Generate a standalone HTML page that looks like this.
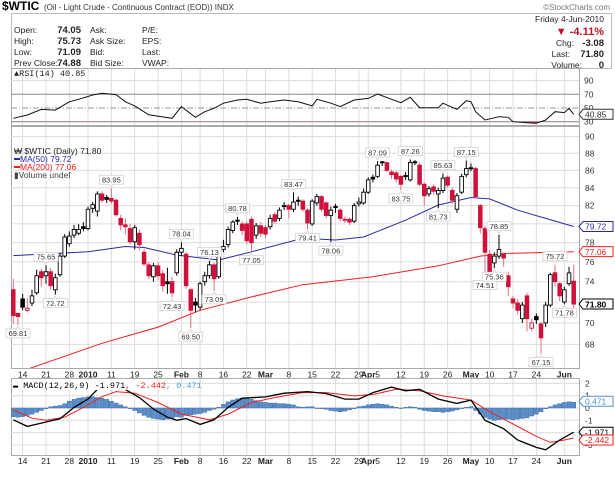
<!DOCTYPE html>
<html><head><meta charset="utf-8">
<style>
html,body{margin:0;padding:0;background:#fff;}
svg{display:block;font-family:"Liberation Sans",sans-serif;}
</style></head>
<body>
<svg id="chart" width="615" height="478" viewBox="0 0 615 478" xmlns="http://www.w3.org/2000/svg">
  <rect x="0" y="0" width="615" height="478" fill="#fff"/>
  <g>
    <text x="2" y="10" font-size="12" font-weight="bold" fill="#000">$WTIC</text>
    <text x="44" y="10" font-size="8" fill="#333">(Oil - Light Crude - Continuous Contract (EOD)) INDX</text>
    <text x="610" y="10" font-size="8" fill="#777" text-anchor="end">©StockCharts.com</text>
  </g>
  <rect x="11.5" y="13.5" width="600" height="55" fill="#fff" stroke="#bbb"/>
  <g font-size="8.5" fill="#222">
    <text x="14" y="33">Open:</text>
    <text x="81" y="33" text-anchor="end" font-weight="bold" font-size="9.5">74.05</text>
    <text x="14" y="44">High:</text>
    <text x="81" y="44" text-anchor="end" font-weight="bold" font-size="9.5">75.73</text>
    <text x="14" y="55">Low:</text>
    <text x="81" y="55" text-anchor="end" font-weight="bold" font-size="9.5">71.09</text>
    <text x="14" y="66">Prev Close:</text>
    <text x="81" y="66" text-anchor="end" font-weight="bold" font-size="9.5">74.88</text>
    <text x="90" y="33">Ask:</text>
    <text x="90" y="44">Ask Size:</text>
    <text x="90" y="55">Bid:</text>
    <text x="90" y="66">Bid Size:</text>
    <text x="142" y="33">P/E:</text>
    <text x="142" y="44">EPS:</text>
    <text x="142" y="55">Last:</text>
    <text x="142" y="66">VWAP:</text>
    <text x="604" y="22" text-anchor="end">Friday  4-Jun-2010</text>
    <text x="604" y="35" text-anchor="end" font-weight="bold" font-size="11" fill="#c0102a">▼ -4.11%</text>
    <text x="574" y="46" text-anchor="end">Chg:</text>
    <text x="604" y="46" text-anchor="end" font-weight="bold" font-size="9.5">-3.08</text>
    <text x="570" y="57" text-anchor="end">Last:</text>
    <text x="604" y="57" text-anchor="end" font-weight="bold" font-size="9.5">71.80</text>
    <text x="582" y="68" text-anchor="end">Volume:</text>
    <text x="604" y="68" text-anchor="end" font-weight="bold" font-size="9.5">0</text>
  </g>
  <g id="rsi"></g>
  <g id="main"></g>
  <g id="dates"></g>
  <g id="macd"></g>
  <defs>
    <clipPath id="mainClip"><rect x="11" y="127" width="568" height="241"/></clipPath>
    <clipPath id="rsiLow"><rect x="11" y="121.7" width="568" height="4"/></clipPath>
  </defs>
</svg>
<script>
// ---------- DATA ----------
const opens = [
73.2,70.9,72.3,71.2,71.9,72.9,75.0,74.6,75.0,73.2,
74.7,76.6,77.9,78.8,79.0,79.7,79.5,81.7,81.4,83.3,
82.9,82.8,82.6,80.6,79.9,79.5,78.1,79.0,77.0,75.7,
74.5,75.6,74.8,74.0,74.0,74.9,77.0,76.8,73.2,72.0,
71.5,74.0,74.6,75.7,74.5,77.3,77.8,79.3,80.4,80.0,
80.0,80.5,78.8,79.8,79.6,79.7,81.0,80.6,82.0,82.0,
81.6,82.6,82.5,81.5,80.0,82.3,83.0,82.3,80.9,81.9,
81.5,80.4,80.5,80.3,82.2,82.3,83.5,85.2,85.3,87.0,
86.9,85.8,85.7,85.3,85.4,84.9,87.0,86.6,84.4,83.3,
84.1,83.3,83.7,85.2,83.7,81.6,83.5,85.5,86.3,86.2,
82.0,79.5,76.8,75.9,76.6,76.8,74.6,72.3,71.9,70.4,
72.6,69.5,70.6,69.9,70.0,71.7,74.9,73.8,72.0,73.8,74.05];
const closes = [
70.7,70.6,71.5,71.4,72.6,74.6,74.4,75.0,73.6,74.4,
76.6,78.6,78.7,79.4,79.4,79.5,81.6,82.1,83.3,82.6,
82.7,82.5,81.0,79.9,79.7,78.1,79.6,77.8,75.8,74.6,
75.6,74.6,73.6,73.8,72.9,77.0,77.4,73.6,71.2,71.7,
73.8,74.6,75.7,74.3,77.1,77.6,79.4,80.2,80.3,79.3,
78.2,78.0,79.8,79.0,78.9,80.6,80.3,81.5,81.9,81.6,
82.4,82.5,81.6,80.1,82.5,83.0,81.6,80.9,81.5,81.8,
80.6,80.5,80.2,82.0,82.4,83.5,84.9,85.0,86.6,86.9,
86.0,85.5,85.0,84.4,85.3,86.9,86.95,84.4,83.1,83.9,
83.6,83.7,85.1,84.3,82.6,83.1,85.3,86.2,86.25,83.0,
79.6,77.0,75.0,76.6,77.3,76.4,73.5,71.9,71.2,71.7,
70.4,70.0,70.3,68.6,71.7,74.7,74.0,72.6,73.2,74.88,71.80];
const highs = [
74.3,71.0,72.8,72.4,73.2,75.2,75.3,75.65,75.4,74.8,
76.9,78.9,79.2,79.9,80.0,80.2,81.9,82.4,83.6,83.6,
83.2,83.95,82.8,81.0,80.6,80.0,79.9,79.4,77.3,76.0,
75.9,76.0,75.2,75.4,74.5,77.3,78.04,77.0,73.4,72.4,
74.0,75.0,76.13,75.9,77.5,78.3,79.7,80.4,80.78,80.3,
80.3,80.8,80.1,80.2,79.9,81.0,81.3,81.8,82.4,82.2,
83.47,83.0,82.7,81.7,82.7,83.3,83.2,82.5,81.9,82.2,
81.7,80.8,80.7,82.3,82.9,83.9,85.2,85.5,87.09,87.1,
87.0,86.1,85.9,85.5,85.8,87.26,87.2,86.9,84.6,84.2,
84.4,84.0,85.63,85.4,84.0,83.4,85.6,87.15,86.8,86.4,
82.2,79.8,77.2,77.0,78.85,77.0,75.0,72.6,72.3,72.0,
72.9,70.4,70.9,70.1,72.0,74.9,75.72,74.0,73.5,75.5,75.73];
const lows = [
69.9,69.81,71.2,71.0,71.6,72.7,73.5,73.8,73.2,72.72,
74.5,76.4,77.6,78.5,78.8,79.2,79.3,81.2,80.8,82.3,
82.3,82.2,80.8,79.3,78.9,77.8,77.3,77.2,75.6,74.3,
74.0,74.2,73.0,72.8,72.43,74.6,76.6,73.3,69.5,71.0,
71.2,73.6,74.3,73.09,74.3,77.0,77.5,79.0,79.9,78.8,
77.8,77.05,78.4,78.6,78.5,79.4,80.0,80.3,81.5,80.6,
81.3,82.0,81.3,79.41,79.8,82.0,81.3,80.6,78.06,81.2,
80.3,80.1,79.9,80.1,81.9,82.1,83.3,84.6,85.1,86.5,
85.8,85.0,84.6,83.75,84.9,84.7,86.6,84.2,82.0,83.0,
83.2,81.73,83.4,84.0,82.2,81.2,83.3,85.2,85.9,82.8,
79.0,74.51,74.8,75.36,76.3,75.5,72.6,71.4,70.8,70.0,
69.2,69.2,69.9,67.15,69.6,71.5,73.5,72.1,71.78,73.6,71.09];

const ma50Days = [0,16,24,28,35,44,51,62,69,75,84,91,98,102,108,114,120];
const ma50Vals = [76.65,77.05,77.6,77.5,76.7,76.2,77.05,78.46,78.28,78.6,80.4,82.07,82.9,82.75,81.5,80.6,79.72];
const ma200Days = [0,4,19,31,40,51,62,77,91,100,105,120];
const ma200Vals = [65.3,65.9,68.1,69.6,71.2,72.5,73.7,74.5,75.6,76.6,76.87,77.06];

const annotDays = [1,7,9,21,36,34,38,42,43,48,51,60,63,68,78,83,85,91,92,97,101,103,104,113,116,118];
const annotTexts = ["69.81","75.65","72.72","83.95","78.04","72.43","69.50","76.13","73.09","80.78","77.05","83.47","79.41","78.06","87.09","83.75","87.26","81.73","85.63","87.15","74.51","75.36","78.85","67.15","75.72","71.78"];
const annotSides = ["L","H","L","H","H","L","L","H","L","H","L","H","L","L","H","L","H","L","H","H","L","L","H","L","H","L"];

const priceTicks = [90,88,86,84,82,78,76,74,70,68];
const priceGrid = [90,88,86,84,82,80,78,76,74,72,70,68];

const rsiDays = [0,3,6,9,12,14,17,19,22,24,26,29,32,34,36,39,41,43,45,48,50,53,55,58,61,64,65,68,70,73,76,78,81,83,85,87,91,92,95,97,98,99,101,104,106,107,110,112,114,116,118,119,120];
const rsiVals = [35,39.8,48,47,59,62.7,69,71.5,69.5,59,53,40,37,35,52,36.4,44.6,49.5,57,61.7,62.7,57,59,61.7,59,53,62.7,57,52,61.7,64,70.4,62.7,57.7,65.6,50.4,50.4,57,48,60.7,59,44.6,32.5,37.3,36.4,30,28.6,27.6,32.5,44.6,43.3,49.5,40.85];
const rsiTicks = [90,70,50,30];

const macdDays = [0,3,6,10,13,16,18,22,24,27,30,33,35,37,40,43,46,49,54,58,63,67,71,74,77,81,84,87,91,95,98,101,105,108,112,114,117,120];
const macdVals = [-0.96,-1.5,-1.23,-0.88,0.05,0.72,1.52,1.92,1.5,0.85,-0.08,-0.75,-1.0,-0.85,-1.33,-0.96,0.05,0.8,0.9,1.2,1.33,1.17,0.72,0.72,1.25,1.7,1.4,1.52,0.72,0.37,0.64,-1.0,-1.68,-2.6,-3.2,-3.4,-2.6,-1.971];
const signalDays = [0,4,7,11,15,19,22,26,31,36,42,46,51,56,62,67,73,77,82,87,92,98,102,107,112,115,118,120];
const signalVals = [-0.16,-0.83,-1.0,-0.75,0.05,0.92,1.33,1.2,0.45,-0.5,-0.96,-0.5,0.45,0.85,1.25,1.25,0.98,1.1,1.52,1.4,0.98,0.64,-0.3,-1.3,-2.3,-2.8,-2.6,-2.442];
const histVals = [
-0.7,-0.75,-0.7,-0.6,-0.5,-0.35,-0.2,-0.05,0.1,0.15,
0.2,0.35,0.55,0.7,0.8,0.85,0.9,0.9,0.85,0.8,
0.7,0.55,0.4,0.25,0.1,-0.05,-0.2,-0.4,-0.6,-0.75,
-0.85,-0.9,-0.95,-0.9,-0.85,-0.7,-0.75,-0.6,-0.55,-0.5,
-0.45,-0.35,-0.2,-0.1,0.05,0.3,0.5,0.65,0.75,0.8,
0.8,0.7,0.6,0.5,0.45,0.4,0.4,0.35,0.35,0.3,
0.25,0.1,0.05,0.1,0.1,0.0,-0.05,-0.1,-0.2,-0.25,
-0.3,-0.25,-0.15,-0.05,0.1,0.15,0.25,0.3,0.35,0.3,
0.25,0.15,0.05,0.0,0.05,0.1,0.05,-0.1,-0.2,-0.25,
-0.3,-0.3,-0.35,-0.3,-0.25,-0.15,-0.05,0.05,0.1,-0.2,
-0.5,-0.75,-0.9,-1.0,-0.95,-0.9,-0.9,-0.95,-0.9,-0.85,
-0.8,-0.65,-0.5,-0.3,-0.05,0.1,0.25,0.35,0.45,0.5,0.471];
const macdTicks = [2,1,0,-1,-3];

const dateTickDays = [2,7,12,16,21,26,31,36,40,45,50,54,59,64,69,74,76,78,83,88,93,98,102,107,112,118];
const dateTickLabels = ["14","21","28","2010","11","19","25","Feb","8","16","22","Mar","8","15","22","29","Apr","5","12","19","26","May","10","17","24","Jun"];
const dateTickBold = [0,0,0,1,0,0,0,1,0,0,0,1,0,0,0,0,1,0,0,0,0,1,0,0,0,1];

// ---------- AXES ----------
const NS = "http://www.w3.org/2000/svg";
const L = 11, R = 579;
function xDay(k){ return 13.3 + k*4.67; }
function yPrice(p){ return 153.3 + 741*Math.log(88/p); }
function yRsi(v){ return 94.3 + (70-v)*0.685; }
function yMacd(m){ return 408 - 12.3*m; }
function mk(tag, attrs, parent){
  const e = document.createElementNS(NS, tag);
  for (const a in attrs) e.setAttribute(a, attrs[a]);
  parent.appendChild(e);
  return e;
}
function pathFrom(days, vals, yf){
  let d = "";
  for (let i=0;i<days.length;i++) d += (i?"L":"M") + xDay(days[i]).toFixed(1) + "," + yf(vals[i]).toFixed(1);
  return d;
}
function vgrid(parent, y0, y1){
  for (let i=0;i<dateTickDays.length;i++){
    if (dateTickLabels[i]==="5") continue;
    const g = mk("line",{x1:xDay(dateTickDays[i]),x2:xDay(dateTickDays[i]),y1:y0,y2:y1,stroke:"#dcdcdc","stroke-width":1},parent);
    
    
  }
}
function valueBox(parent, y, text, color, bold, name){
  const w = 30;
  const b = mk("path",{d:`M${R},${y} L${R+4},${y-5} L${R+4+w},${y-5} L${R+4+w},${y+5} L${R+4},${y+5} Z`,fill:"#fff",stroke:color,"stroke-width":1},parent);
  
  
  const t = mk("text",{x:R+6,y:y+3.2,"font-size":8.5,fill:bold?"#000":color,"font-weight":bold?"bold":"normal"},parent);
  
  
  t.textContent = text;
}

// ---------- RSI PANEL ----------
const rsiG = document.getElementById("rsi");
const rsiFrame = mk("rect",{x:L+0.5,y:68.5,width:R-L,height:57,fill:"#fff",stroke:"#aaa"},rsiG);


vgrid(rsiG, 69, 125);
const g90 = mk("line",{x1:L,x2:R,y1:yRsi(90),y2:yRsi(90),stroke:"#dcdcdc"},rsiG);


const l70 = mk("line",{x1:L,x2:R,y1:yRsi(70),y2:yRsi(70),stroke:"#888"},rsiG);


const l30 = mk("line",{x1:L,x2:R,y1:yRsi(30),y2:yRsi(30),stroke:"#888"},rsiG);


const l50 = mk("line",{x1:L,x2:R,y1:yRsi(50),y2:yRsi(50),stroke:"#999","stroke-dasharray":"6,2,1,2"},rsiG);


const rsiFill = mk("path",{d:pathFrom(rsiDays,rsiVals,yRsi)+` L${xDay(120)},${yRsi(30)} L${xDay(0)},${yRsi(30)} Z`,fill:"#d02040","clip-path":"url(#rsiLow)"},rsiG);


const rsiLine = mk("path",{d:pathFrom(rsiDays,rsiVals,yRsi),fill:"none",stroke:"#111","stroke-width":1},rsiG);


for (const v of rsiTicks){
  const t = mk("text",{x:R+5,y:yRsi(v)+3,"font-size":8.5,fill:"#333"},rsiG);
  
  
  t.textContent = v;
}
valueBox(rsiG, yRsi(rsiVals[rsiVals.length-1]), "40.85", "#333", false, "rsi-current-value");
const rsiLeg = mk("text",{x:14,y:76,"font-size":8.5,fill:"#222","font-family":"Liberation Mono, monospace"},rsiG);


rsiLeg.textContent = "▲RSI(14) 40.85";

// ---------- MAIN PANEL ----------
const mainG = document.getElementById("main");
const mFrame = mk("rect",{x:L+0.5,y:126.5,width:R-L,height:242,fill:"#fff",stroke:"#aaa"},mainG);


vgrid(mainG, 127, 368);
for (const p of priceGrid){
  const g = mk("line",{x1:L,x2:R,y1:yPrice(p),y2:yPrice(p),stroke:"#dcdcdc"},mainG);
  
  
}
for (const p of priceTicks){
  const t = mk("text",{x:R+6,y:yPrice(p)+3,"font-size":8.5,fill:"#333"},mainG);
  
  
  t.textContent = p;
}
const plot = mk("g",{"clip-path":"url(#mainClip)"},mainG);


const ma200 = mk("path",{d:pathFrom(ma200Days,ma200Vals,yPrice),fill:"none",stroke:"#f02020","stroke-width":1},plot);


const ma50 = mk("path",{d:pathFrom(ma50Days,ma50Vals,yPrice),fill:"none",stroke:"#2a2aa0","stroke-width":1},plot);


for (let k=0;k<closes.length;k++){
  const x = xDay(k);
  const up = closes[k] >= opens[k];
  const prev = k>0 ? closes[k-1] : opens[k];
  const col = closes[k] < prev ? "#d0103a" : "#000";
  const wick = mk("line",{x1:x,x2:x,y1:yPrice(highs[k]),y2:yPrice(lows[k]),stroke:col==="#000"?"#000":"#e07080","stroke-width":1},plot);
  
  
  const yt = yPrice(Math.max(opens[k],closes[k])), yb = yPrice(Math.min(opens[k],closes[k]));
  const body = mk("rect",{x:x-1.8,y:yt,width:3.6,height:Math.max(1,yb-yt),fill:up?"#fff":col,stroke:col,"stroke-width":0.9},plot);
  
  
}
for (let i=0;i<annotDays.length;i++){
  const k = annotDays[i];
  const x = xDay(k);
  const w = annotTexts[i].length*4.2+3;
  let y, tri;
  if (annotSides[i]==="H"){ const yh = yPrice(highs[k]); y = yh-13; tri = `M${x-2},${y+9} L${x},${y+11.5} L${x+2},${y+9}`; }
  else { const yl = yPrice(lows[k]); y = yl+4; tri = `M${x-2},${y} L${x},${y-2.5} L${x+2},${y}`; }
  const box = mk("rect",{x:x-w/2,y:y,width:w,height:9,fill:"#fff",stroke:"#ccc","stroke-width":0.7},mainG);
  
  
  const tr = mk("path",{d:tri,fill:"#fff",stroke:"#ccc","stroke-width":0.7},mainG);
  
  
  const t = mk("text",{x:x,y:y+7.3,"font-size":7.5,fill:"#333","text-anchor":"middle"},mainG);
  
  
  t.textContent = annotTexts[i];
}
valueBox(mainG, yPrice(ma50Vals[ma50Vals.length-1]), "79.72", "#2a2aa0", false, "ma50-current-value");
valueBox(mainG, yPrice(ma200Vals[ma200Vals.length-1]), "77.06", "#f02020", false, "ma200-current-value");
valueBox(mainG, yPrice(closes[closes.length-1]), "71.80", "#000", true, "last-price-value");
// legend
const lg = mk("g",{"font-size":8.5},mainG);


const lg1 = mk("text",{x:14,y:154,fill:"#222"},lg);


lg1.textContent = "₩ $WTIC (Daily) 71.80";
const lgl2 = mk("line",{x1:14,x2:20,y1:159,y2:159,stroke:"#2a2aa0","stroke-width":2},lg);


const lg2 = mk("text",{x:20,y:162,fill:"#2a2aa0"},lg);


lg2.textContent = "MA(50) 79.72";
const lgl3 = mk("line",{x1:14,x2:20,y1:167,y2:167,stroke:"#f02020","stroke-width":2},lg);


const lg3 = mk("text",{x:20,y:170,fill:"#f02020"},lg);


lg3.textContent = "MA(200) 77.06";
const lg4 = mk("text",{x:14,y:178,fill:"#444"},lg);


lg4.textContent = "▮Volume undef";

// ---------- MACD PANEL ----------
const macdG = document.getElementById("macd");
const mcFrame = mk("rect",{x:L+0.5,y:378.5,width:R-L,height:77,fill:"#fff",stroke:"#aaa"},macdG);


vgrid(macdG, 379, 455);
for (const m of [2,1,0,-1,-2,-3]){
  const g = mk("line",{x1:L,x2:R,y1:yMacd(m),y2:yMacd(m),stroke:"#dcdcdc"},macdG);
  
  
}
for (const m of macdTicks){
  const t = mk("text",{x:R+6,y:yMacd(m)+3,"font-size":8.5,fill:"#333"},macdG);
  
  
  t.textContent = m;
}
for (let k=0;k<histVals.length;k++){
  const y0 = yMacd(0), y1 = yMacd(histVals[k]);
  const b = mk("rect",{x:xDay(k)-2,y:Math.min(y0,y1),width:4,height:Math.max(0.5,Math.abs(y1-y0)),fill:"#5b8fc9",stroke:"#3a6aa8","stroke-width":0.5},macdG);
  
  
}
const sig = mk("path",{d:pathFrom(signalDays,signalVals,yMacd),fill:"none",stroke:"#f02020","stroke-width":1},macdG);


const mline = mk("path",{d:pathFrom(macdDays,macdVals,yMacd),fill:"none",stroke:"#000","stroke-width":1.3},macdG);


const mlegBg = mk("rect",{x:12,y:380,width:142,height:10,fill:"#fff"},macdG);


const mleg = mk("text",{x:13,y:388,"font-size":8.5,"font-family":"Liberation Mono, monospace"},macdG);


mleg.innerHTML = '<tspan fill="#000">▬ MACD(12,26,9) -1.971</tspan><tspan fill="#f02020">, -2.442</tspan><tspan fill="#4aa0d8">, 0.471</tspan>';
valueBox(macdG, yMacd(histVals[histVals.length-1])-1, "0.471", "#4a90d0", false, "histogram-current-value");
valueBox(macdG, yMacd(macdVals[macdVals.length-1]), "-1.971", "#000", false, "macd-current-value");
valueBox(macdG, yMacd(signalVals[signalVals.length-1])+2, "-2.442", "#f02020", false, "signal-current-value");

// ---------- DATE AXES ----------
const dG = document.getElementById("dates");
for (const yb of [377.5, 464]){
  for (let i=0;i<dateTickDays.length;i++){
    let x = xDay(dateTickDays[i]);
    const t = mk("text",{x:x,y:yb,"font-size":8.5,fill:"#222","text-anchor":"middle","font-weight":dateTickBold[i]?"bold":"normal"},dG);
    
    
    t.textContent = dateTickLabels[i];
  }
}
</script>
</body></html>
